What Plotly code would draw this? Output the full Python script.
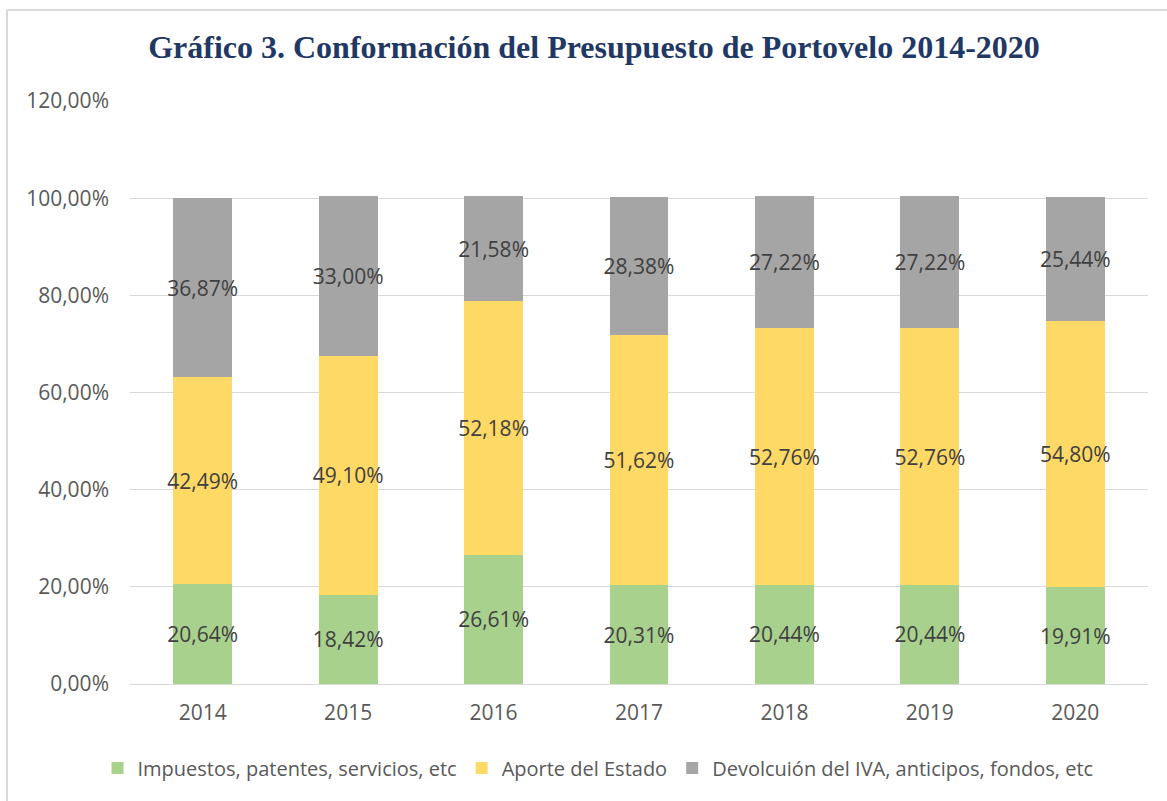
import plotly.graph_objects as go

years = ["2014", "2015", "2016", "2017", "2018", "2019", "2020"]
impuestos = [20.64, 18.42, 26.61, 20.31, 20.44, 20.44, 19.91]
aporte = [42.49, 49.10, 52.18, 51.62, 52.76, 52.76, 54.80]
devolucion = [36.87, 33.00, 21.58, 28.38, 27.22, 27.22, 25.44]
series_names = [
    "Impuestos, patentes, servicios, etc",
    "Aporte del Estado",
    "Devolcuión del IVA, anticipos, fondos, etc",
]
colors = ["#A9D18E", "#FFD966", "#A5A5A5"]
title_text = "Gráfico 3. Conformación del Presupuesto de Portovelo 2014-2020"

W, H = 1167, 801
L, R, T, B = 130, 19, 101, 117
pw, ph = W - L - R, H - T - B

fig = go.Figure()
for name, vals, col in zip(series_names, [impuestos, aporte, devolucion], colors):
    fig.add_trace(go.Bar(
        x=years, y=vals, name=name,
        marker=dict(color=col, line=dict(width=0)),
        texttemplate="%{y:.2f}%",
        textposition="inside",
        insidetextanchor="middle",
        textangle=0,
        constraintext="none",
        textfont=dict(family="Open Sans", size=21, color="#404040"),
        hoverinfo="skip",
    ))

def px_x(p):
    return (p - L) / pw

def px_y(p):
    return (H - B - p) / ph

fig.update_layout(
    width=W, height=H,
    barmode="stack",
    bargap=0.595,
    separators=",.",
    paper_bgcolor="white",
    plot_bgcolor="white",
    margin=dict(l=L, r=R, t=T, b=B, autoexpand=False),
    uniformtext=dict(minsize=21, mode="show"),
    title=dict(
        text=title_text,
        x=0.509, xanchor="center", y=1 - 47 / H, yanchor="middle",
        font=dict(family="Liberation Serif", size=32, color="#1F3864", weight="bold"),
    ),
    legend=dict(
        orientation="h",
        traceorder="normal",
        x=px_x(598), xanchor="center",
        y=px_y(768), yanchor="middle",
        font=dict(family="Open Sans", size=20, color="#595959"),
        itemclick=False,
        itemwidth=30,
        tracegroupgap=0,
    ),
    xaxis=dict(
        showgrid=False, showline=True, linecolor="#D9D9D9", linewidth=1,
        ticks="", tickfont=dict(family="Open Sans", size=21, color="#595959"),
        ticklabelstandoff=10,
    ),
    yaxis=dict(
        range=[0, 120], dtick=20, tickformat=".2f", ticksuffix="%",
        showgrid=True, gridcolor="#D9D9D9", gridwidth=1,
        zeroline=False, showline=False, ticks="",
        tickfont=dict(family="Open Sans", size=21, color="#595959"),
        ticklabelstandoff=20,
    ),
    shapes=[
        dict(type="line", xref="paper", yref="paper",
             x0=px_x(7), x1=px_x(7), y0=px_y(10), y1=px_y(H + 5),
             line=dict(color="#D9D9D9", width=2)),
        dict(type="line", xref="paper", yref="paper",
             x0=px_x(7), x1=px_x(W + 5), y0=px_y(10), y1=px_y(10),
             line=dict(color="#D9D9D9", width=2)),
    ],
)

fig.write_html("out.html", config={"displayModeBar": False},
               post_script="document.body.style.margin='0px';")
